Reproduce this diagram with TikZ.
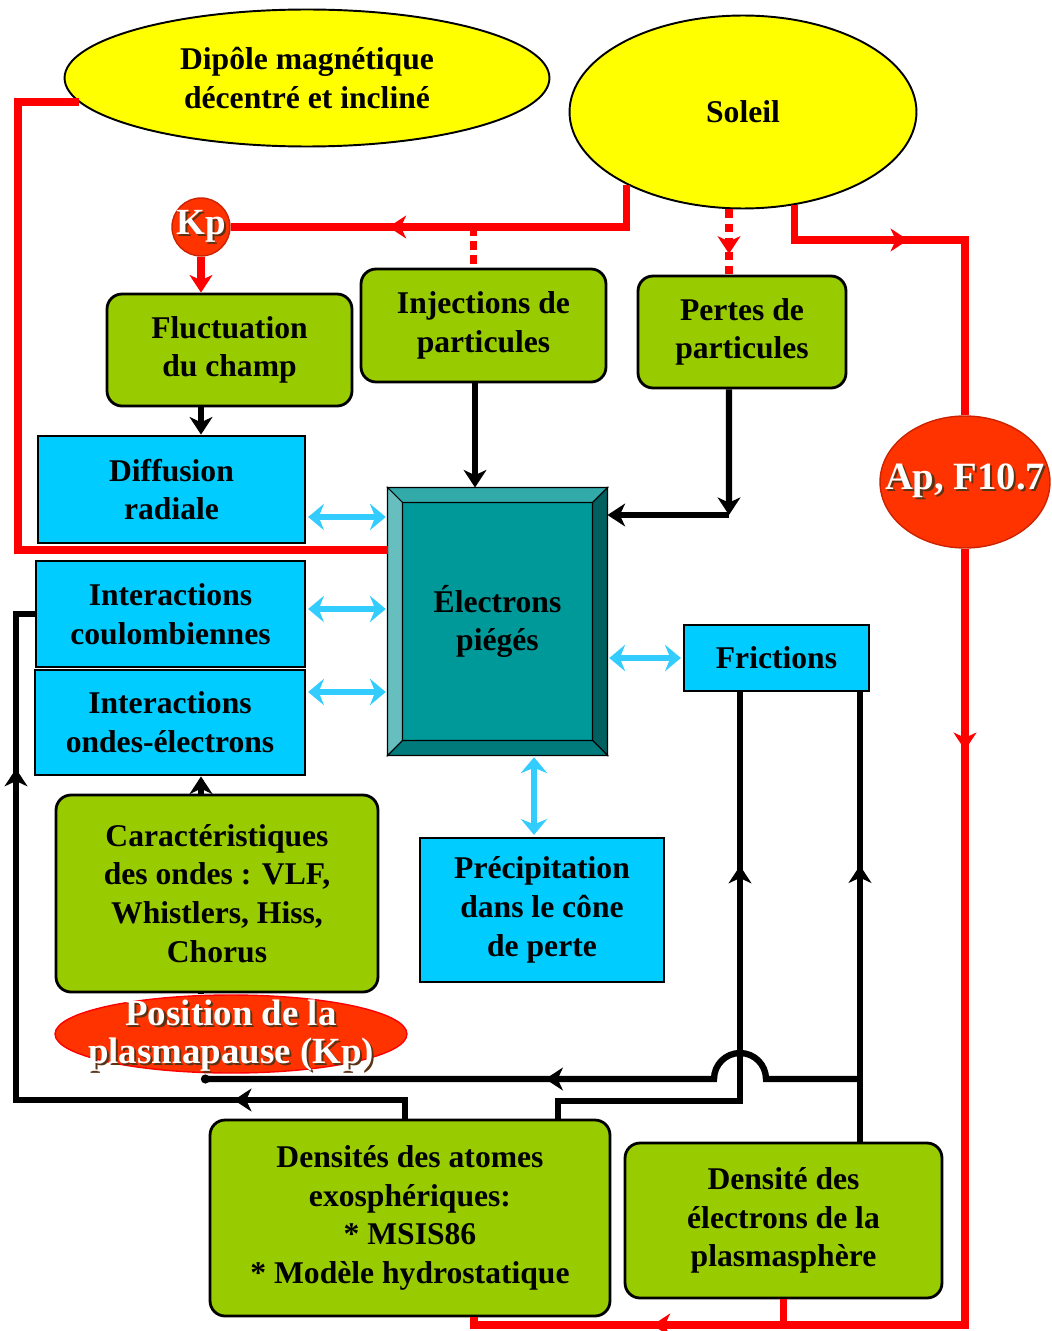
\documentclass[tikz,border=0pt]{standalone}
\usepackage{fontspec}
\setmainfont{Liberation Serif}
\definecolor{sunyellow}{RGB}{255, 255, 0}
\definecolor{boxgreen}{RGB}{153, 204, 0}
\definecolor{boxcyan}{RGB}{0, 204, 255}
\definecolor{arrcyan}{RGB}{51, 204, 255}
\definecolor{linered}{RGB}{255, 0, 0}
\definecolor{idxred}{RGB}{255, 51, 0}
\definecolor{idxedge}{RGB}{204, 34, 0}
\definecolor{shadowbrown}{RGB}{90, 50, 20}
\definecolor{tealmid}{RGB}{0, 153, 153}
\definecolor{tealtop}{RGB}{51, 170, 170}
\definecolor{tealleft}{RGB}{102, 190, 190}
\definecolor{tealright}{RGB}{0, 95, 95}
\definecolor{tealbot}{RGB}{0, 122, 122}
\usepackage{tikz}
\usetikzlibrary{shapes, arrows.meta, positioning, calc, decorations.markings}

% white text with a dark shadow
\newcommand{\shtxt}[1]{\leavevmode\rlap{\kern1.2pt\raisebox{-1.2pt}{\textcolor{shadowbrown}{#1}}}#1}

\begin{document}
\begin{tikzpicture}[x=0.02cm, y=-0.02cm,
  txt/.style={font=\fontsize{18}{22}\selectfont\bfseries, align=center, text=black},
  gbox/.style={txt, draw=black, line width=1.6pt, fill=boxgreen, rounded corners=0.3cm, inner sep=0pt},
  cbox/.style={txt, draw=black, line width=1.6pt, fill=boxcyan, inner sep=0pt},
  yell/.style={txt, ellipse, draw=black, line width=1.1pt, fill=sunyellow, inner sep=0pt},
  idx/.style={draw=idxedge, line width=0.8pt, fill=idxred, inner sep=0pt},
  idxtxt/.style={text=white, align=center, inner sep=0pt},
  redl/.style={linered, line width=4.2pt},
  redarr/.style={redl, -{Stealth[length=10pt, width=13pt, inset=3pt]}},
  reddash/.style={redl, dash pattern=on 5pt off 3pt},
  blk/.style={black, line width=3.6pt},
  blkarr/.style={blk, -{Stealth[length=10pt, width=13pt, inset=3pt]}},
  cyarr/.style={arrcyan, line width=3pt, shorten <=1pt, shorten >=1pt,
    {Stealth[length=9pt, width=15pt, inset=3pt]}-{Stealth[length=9pt, width=15pt, inset=3pt]}},
  midarr/.style={postaction={decorate}, decoration={markings,
    mark=at position #1 with {\arrow{Stealth[length=10pt, width=13pt, inset=3pt]}}}},
  midtwo/.style 2 args={postaction={decorate}, decoration={markings,
    mark=at position #1 with {\arrow{Stealth[length=10pt, width=13pt, inset=3pt]}},
    mark=at position #2 with {\arrow{Stealth[length=10pt, width=13pt, inset=3pt]}}}}]

  \useasboundingbox (0,0) rectangle (1051,1331);

  % Sources
  \node[yell, minimum width=9.7cm, minimum height=2.74cm] (dip) at (307,78) {Dipôle magnétique\\décentré et incliné};
  \node[yell, minimum width=6.94cm, minimum height=3.86cm] (sol) at (743,112) {Soleil};

  % Index circles
  \node[idx, circle, minimum size=1.16cm,
    label={[idxtxt, font=\fontsize{21}{21}\selectfont\bfseries]center:\shtxt{Kp}}] (kp) at (201,227) {};
  \node[idx, ellipse, minimum width=3.4cm, minimum height=2.64cm,
    label={[idxtxt, font=\fontsize{22}{22}\selectfont\bfseries]center:\shtxt{Ap, F10.7}}] (ap) at (965,482) {};

  % Process boxes
  \node[gbox, minimum width=4.9cm, minimum height=2.24cm] (fluct) at (229.5,350) {Fluctuation\\du champ};
  \node[gbox, minimum width=4.9cm, minimum height=2.26cm] (inj) at (483.5,325.5) {Injections de\\particules};
  \node[gbox, minimum width=4.16cm, minimum height=2.24cm] (pertes) at (742,332) {Pertes de\\particules};
  \node[cbox, minimum width=5.34cm, minimum height=2.14cm] (diff) at (171.5,489.5) {Diffusion\\radiale};
  \node[cbox, minimum width=5.38cm, minimum height=2.12cm] (coul) at (170.5,614) {Interactions\\coulombiennes};
  \node[cbox, minimum width=5.4cm, minimum height=2.1cm] (ondes) at (170,722.5) {Interactions\\ondes-électrons};
  \node[cbox, minimum width=3.7cm, minimum height=1.32cm] (fric) at (776.5,658) {Frictions};
  \node[gbox, minimum width=6.44cm, minimum height=3.94cm] (car) at (217,893.5) {Caractéristiques\\des ondes : VLF,\\Whistlers, Hiss,\\Chorus};
  \node[idx, ellipse, draw=linered, minimum width=7.04cm, minimum height=1.56cm,
    label={[idxtxt, font=\fontsize{21}{21.5}\selectfont\bfseries, yshift=-0.05cm]center:\shtxt{Position de la}\\\shtxt{plasmapause (Kp)}}] (pp) at (231,1034) {};
  \node[cbox, minimum width=4.88cm, minimum height=2.88cm] (prec) at (542,910) {Précipitation\\dans le cône\\de perte};
  \node[gbox, minimum width=8cm, minimum height=3.92cm] (atom) at (410,1218) {Densités des atomes\\exosphériques:\\* MSIS86\\* Modèle hydrostatique};
  \node[gbox, minimum width=6.34cm, minimum height=3.1cm] (elecd) at (783.5,1220.5) {Densité des\\électrons de la\\plasmasphère};

  % Trapped electrons (bevelled box)
  \def\bv{15}
  \node[txt, draw=black, line width=0.6pt, fill=tealmid, minimum width=4.38cm, minimum height=5.34cm] (elec) at (497.5,621.5) {Électrons\\piégés};
  \filldraw[fill=tealtop, draw=black, line width=0.6pt] (elec.north west) -- (elec.north east)
    -- ($(elec.north east)+(-\bv,\bv)$) -- ($(elec.north west)+(\bv,\bv)$) -- cycle;
  \filldraw[fill=tealleft, draw=black, line width=0.6pt] (elec.north west) -- (elec.south west)
    -- ($(elec.south west)+(\bv,-\bv)$) -- ($(elec.north west)+(\bv,\bv)$) -- cycle;
  \filldraw[fill=tealright, draw=black, line width=0.6pt] (elec.north east) -- (elec.south east)
    -- ($(elec.south east)+(-\bv,-\bv)$) -- ($(elec.north east)+(-\bv,\bv)$) -- cycle;
  \filldraw[fill=tealbot, draw=black, line width=0.6pt] (elec.south west) -- (elec.south east)
    -- ($(elec.south east)+(-\bv,-\bv)$) -- ($(elec.south west)+(\bv,-\bv)$) -- cycle;

  % Red links (indices)
  \coordinate (dipL) at (18,550);
  \draw[redl] (dip.186) -| (dipL) -- (dipL -| elec.west);
  \draw[redl, midarr=0.64] (sol.212) |- (kp.east);
  \coordinate (injx) at ([xshift=-0.2cm]inj.north);
  \draw[reddash] (injx |- kp.east) -- (injx);
  \coordinate (pertx) at ([xshift=-0.26cm]pertes.north);
  \draw[reddash, midarr=0.68] (sol.south -| pertx) -- (pertx);
  \draw[redarr] (kp.south) -- (kp.south |- fluct.north);
  \coordinate (apin) at (965,240);
  \draw[redl, midarr=0.39] (sol.299) |- (apin) -- (ap.north);
  \coordinate (apB) at (965,1325);
  \coordinate (atomR) at ([xshift=1.28cm]atom.south);
  \draw[redl, midtwo={0.158}{0.854}] (ap.south) -- (apB) -| (atomR);
  \draw[redl] (elecd.south) -- (elecd.south |- apB);

  % Black links
  \draw[blkarr] (kp.south |- fluct.south) -- (kp.south |- diff.north);
  \draw[blkarr] (kp.south |- car.north) -- (kp.south |- ondes.south);
  \draw[blk] (kp.south |- car.south) -- (kp.south |- pp.north);
  \coordinate (injy) at ([xshift=-0.17cm]inj.south);
  \draw[blkarr] (injy) -- (injy |- elec.north);
  \coordinate (pery) at ([xshift=-0.26cm]pertes.south);
  \coordinate (perc) at (729,515);
  \draw[blkarr] (pery) -- (perc);
  \draw[blkarr] (perc) -- (perc -| elec.east);
  \coordinate (atL) at ([xshift=-0.1cm]atom.north);
  \coordinate (lb) at (16,1100);
  \draw[blk, midtwo={0.208}{0.81}] (atL) |- (lb) |- (coul.west);
  \coordinate (atR) at ([xshift=2.96cm]atom.north);
  \coordinate (fjL) at (740,1101);
  \draw[blk, midarr=0.715] (atR) |- (fjL) -- (fjL |- fric.south);
  \coordinate (edR) at ([xshift=1.53cm]elecd.north);
  \draw[blk, midarr=0.615] (edR) -- (edR |- fric.south);
  \coordinate (jR) at (860,1079);
  \coordinate (ppdot) at (201,1079);
  \draw[blk, midarr=0.5, -{Circle[length=5pt]}] (jR) -- ++(-94,0)
    arc[start angle=0, end angle=180, radius=0.52cm] -- (ppdot);

  % Cyan exchanges with the trapped electrons
  \coordinate (da) at ([yshift=-0.55cm]diff.east);
  \draw[cyarr] (da) -- (da -| elec.west);
  \coordinate (ca) at ([yshift=0.1cm]coul.east);
  \draw[cyarr] (ca) -- (ca -| elec.west);
  \coordinate (oa) at ([yshift=0.61cm]ondes.east);
  \draw[cyarr] (oa) -- (oa -| elec.west);
  \draw[cyarr] (elec.east |- fric.west) -- (fric.west);
  \coordinate (pa) at ([xshift=-0.16cm]prec.north);
  \draw[cyarr] (pa |- elec.south) -- (pa);
\end{tikzpicture}
\end{document}
